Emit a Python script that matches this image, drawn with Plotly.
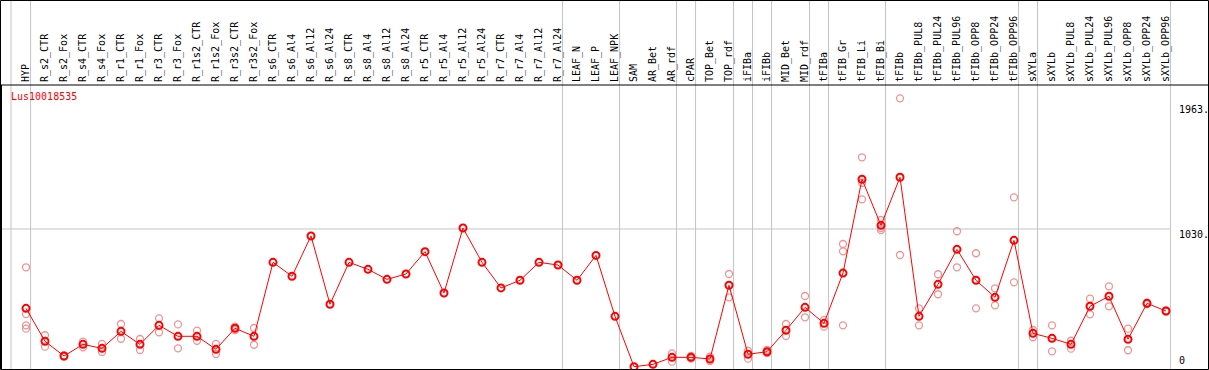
import plotly.graph_objects as go

categories = [
    "HYP", "R_s2_CTR", "R_s2_Fox", "R_s4_CTR", "R_s4_Fox", "R_r1_CTR", "R_r1_Fox",
    "R_r3_CTR", "R_r3_Fox", "R_r1s2_CTR", "R_r1s2_Fox", "R_r3s2_CTR", "R_r3s2_Fox",
    "R_s6_CTR", "R_s6_Al4", "R_s6_Al12", "R_s6_Al24",
    "R_s8_CTR", "R_s8_Al4", "R_s8_Al12", "R_s8_Al24",
    "R_r5_CTR", "R_r5_Al4", "R_r5_Al12", "R_r5_Al24",
    "R_r7_CTR", "R_r7_Al4", "R_r7_Al12", "R_r7_Al24",
    "LEAF_N", "LEAF_P", "LEAF_NPK",
    "SAM", "AR_Bet", "AR_rdf", "cPAR", "TOP_Bet", "TOP_rdf", "iFIBa", "iFIBb",
    "MID_Bet", "MID_rdf", "tFIBa", "tFIB_Gr", "tFIB_Li", "tFIB_Bi", "tFIBb",
    "tFIBb_PUL8", "tFIBb_PUL24", "tFIBb_PUL96", "tFIBb_OPP8", "tFIBb_OPP24", "tFIBb_OPP96",
    "sXYLa", "sXYLb", "sXYLb_PUL8", "sXYLb_PUL24", "sXYLb_PUL96",
    "sXYLb_OPP8", "sXYLb_OPP24", "sXYLb_OPP96",
]

means = [
    438, 192, 82, 169, 139, 266, 169, 311, 229, 229, 132, 289, 229,
    781, 677, 978, 468,
    781, 729, 654, 694,
    861, 552, 1037, 781,
    590, 647, 781, 761,
    647, 833, 378,
    2, 20, 72, 72, 60, 610, 95, 114, 274, 445, 326, 701, 1401, 1057, 1416,
    378, 617, 878, 647, 520, 945,
    251, 214, 169, 453, 528, 207, 475, 418,
]

replicates = [
    [744, 395, 311, 286], [237, 152], [86, 78], [189, 147], [172, 112], [321, 211],
    [209, 127], [363, 259], [318, 139], [271, 196], [172, 97], [301, 276], [291, 166],
    [], [], [], [],
    [], [], [], [],
    [], [], [], [],
    [], [], [], [],
    [], [], [],
    [], [], [102, 40], [82, 62], [77, 45], [694, 520], [122, 62], [127, 104],
    [321, 231], [530, 371], [351, 301], [918, 863, 311], [1565, 1375, 1251],
    [1097, 1037, 1022], [2005, 836],
    [438, 311], [692, 543], [1013, 744], [849, 438], [587, 460], [1266, 632],
    [276, 222], [311, 117], [196, 137], [510, 393], [602, 453],
    [286, 125], [480, 470], [422, 414],
]

# index of last category in each group (group separators)
group_ends = [0, 28, 31, 34, 35, 37, 38, 39, 41, 42, 45, 52, 53, 60]

y_ticks = [0, 1030, 1963]
y_tick_text = ["0", "1030.", "1963."]
title_text = "Lus10018535"

x_idx = list(range(len(categories)))
rep_x, rep_y = [], []
for i, vals in enumerate(replicates):
    for v in vals:
        rep_x.append(i)
        rep_y.append(v)

W, H = 1209, 370
ML, MR, MT, MB = 1, 38, 85, 1
plot_w = W - ML - MR
plot_h = H - MT - MB

fig = go.Figure()
fig.add_trace(go.Scatter(
    x=rep_x, y=rep_y, mode="markers", cliponaxis=False,
    marker=dict(symbol="circle-open", size=7, color="#ee9494", line=dict(width=1.3, color="#ee9494")),
    hoverinfo="skip", showlegend=False,
))
fig.add_trace(go.Scatter(
    x=x_idx, y=means, mode="lines+markers", cliponaxis=False,
    line=dict(color="#ff0000", width=1),
    marker=dict(symbol="circle-open", size=7, color="#ff0000", line=dict(width=2, color="#ff0000")),
    showlegend=False,
))

shapes = []
sep_positions = [-0.79] + [e + 0.24 for e in group_ends]
top_paper = (H - MB - 0.5) / plot_h
for xp in sep_positions:
    shapes.append(dict(type="line", xref="x", yref="paper", x0=xp, x1=xp, y0=0, y1=top_paper,
                       line=dict(color="#c4c4c4", width=1), layer="below"))
shapes.append(dict(type="line", xref="paper", yref="y", x0=0, x1=1, y0=1030, y1=1030,
                   line=dict(color="#c4c4c4", width=1), layer="below"))
px2x = lambda px: (px - ML) / plot_w
py2y = lambda py: (H - MB - py) / plot_h
shapes.append(dict(type="rect", xref="paper", yref="paper",
                   x0=px2x(0.5), x1=px2x(W - 0.5), y0=py2y(H - 0.5), y1=py2y(0.5),
                   line=dict(color="black", width=1), fillcolor="rgba(0,0,0,0)"))
shapes.append(dict(type="line", xref="paper", yref="paper",
                   x0=px2x(0), x1=px2x(W), y0=py2y(85), y1=py2y(85),
                   line=dict(color="black", width=1)))
shapes.append(dict(type="line", xref="paper", yref="paper",
                   x0=px2x(1.5), x1=px2x(1.5), y0=0, y1=1,
                   line=dict(color="black", width=1)))

annotations = [dict(text=title_text, xref="paper", yref="paper", x=px2x(8.5), y=1,
                    xanchor="left", yanchor="top", yshift=-4, showarrow=False,
                    font=dict(family="DejaVu Sans Mono", size=10, color="#ff0000"))]
for v, t in zip(y_ticks, y_tick_text):
    annotations.append(dict(text=t, xref="paper", yref="y", x=1, y=v,
                            xanchor="left", yanchor="bottom" if v == 0 else "top",
                            xshift=6, yshift=-1 if v == 0 else 2, showarrow=False,
                            font=dict(family="DejaVu Sans Mono", size=10, color="black")))

fig.update_layout(
    width=W, height=H,
    margin=dict(l=ML, r=MR, t=MT, b=MB, pad=0, autoexpand=False),
    plot_bgcolor="white", paper_bgcolor="white",
    shapes=shapes, annotations=annotations,
    xaxis=dict(
        range=[(ML - 26) / 19, (W - MR - 26) / 19],
        tickmode="array", tickvals=x_idx, ticktext=categories,
        side="top", tickangle=-90, ticks="", showgrid=False, zeroline=False,
        showline=False, tickfont=dict(family="DejaVu Sans Mono", size=10, color="black"),
        ticklabelstandoff=2, automargin=False,
    ),
    yaxis=dict(
        range=[-(369 - 367) / 0.134, (367 - 85) / 0.134],
        showticklabels=False, ticks="", showgrid=False, zeroline=False, showline=False,
        automargin=False,
    ),
)

fig.write_html(
    "out.html",
    config={"displayModeBar": False},
    post_script="document.body.style.margin='0';document.body.style.overflow='hidden';",
)
